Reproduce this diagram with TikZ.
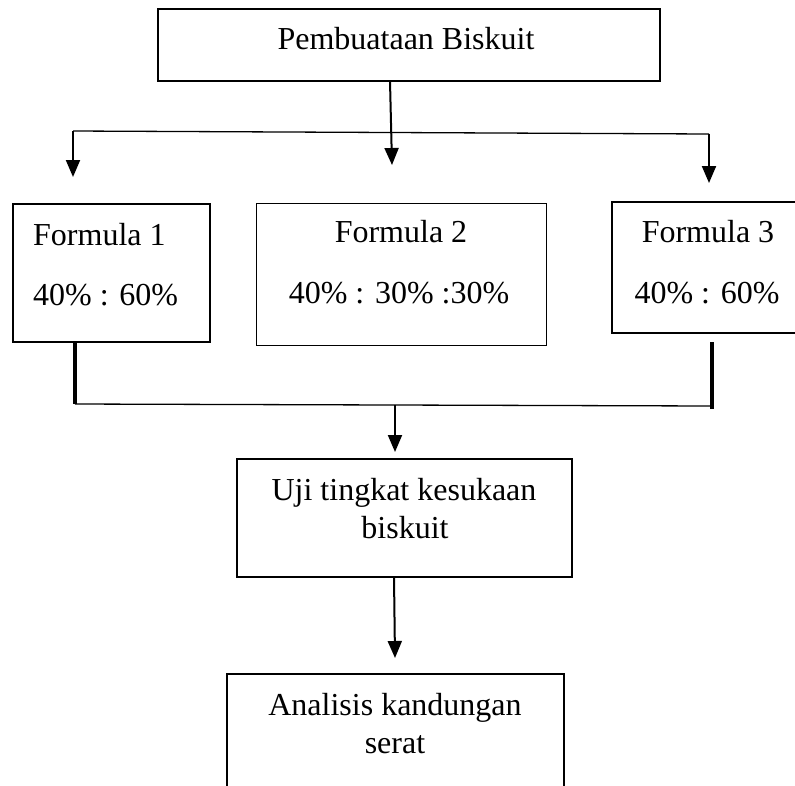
\documentclass[tikz,border=0pt]{standalone}
\usepackage{fontspec}
\setmainfont{Liberation Serif}
\usetikzlibrary{arrows.meta}
\begin{document}
\begin{tikzpicture}[x=1pt,y=-1pt,
  box/.style={draw,rectangle,inner sep=0pt,line width=2.4pt},
  thinbox/.style={draw,rectangle,inner sep=0pt,line width=1pt},
  lbl/.style={font=\fontsize{32}{36}\selectfont,inner sep=0pt,anchor=base},
  arr/.style={line width=2pt,-{Triangle[width=14pt,length=17pt]}},
  bus/.style={line width=1.3pt},
  leg/.style={line width=3.5pt}]
\useasboundingbox (0,0) rectangle (795,785);

% boxes
\node[box,line width=2pt,minimum width=502pt,minimum height=72pt] (top) at (408.5,45) {};
\node[box,minimum width=197pt,minimum height=138pt] (f1) at (111.5,273) {};
\node[thinbox,minimum width=290pt,minimum height=142pt] (f2) at (401,274) {};
\node[box,minimum width=190pt,minimum height=131pt] (f3) at (707,267.5) {};
\node[box,minimum width=335pt,minimum height=118pt] (uji) at (404.5,518) {};
\node[box,minimum width=337pt,minimum height=130pt] (ana) at (395.5,739) {};

% texts
\node[lbl] (tTop) at (406,49) {Pembuataan Biskuit};
\node[lbl,anchor=base west] (tF1a) at (33,245) {Formula 1};
\node[lbl,anchor=base west] (tF1b) at (33,305) {40\% : 60\%};
\node[lbl] (tF2a) at (401,242) {Formula 2};
\node[lbl] (tF2b) at (399,303) {40\% : 30\% :30\%};
\node[lbl] (tF3a) at (708,242) {Formula 3};
\node[lbl] (tF3b) at (707,303) {40\% : 60\%};
\node[lbl] (tU1) at (404,500) {Uji tingkat kesukaan};
\node[lbl] (tU2) at (405,538) {biskuit};
\node[lbl] (tA1) at (395,715) {Analisis kandungan};
\node[lbl] (tA2) at (395,753) {serat};

% connector points
\coordinate (topOut) at (390,81);
\coordinate (midTip) at (392,165);
\coordinate (busL) at (73,131);
\coordinate (busR) at (709,134);
\coordinate (f1Tip) at (73,177);
\coordinate (f3Tip) at (709,183);
\coordinate (legL1) at (75,343);
\coordinate (legL2) at (75,404);
\coordinate (legR1) at (712,342);
\coordinate (legR2) at (712,409);
\coordinate (bus2R) at (712,406);
\coordinate (bus2M) at (395,405);
\coordinate (ujiTip) at (395,452);
\coordinate (ujiOut) at (394,577);
\coordinate (anaTip) at (395,658);

% connectors
\draw[arr] (topOut) -- (midTip);
\draw[bus] (busL) -- (busR);
\draw[arr] (busL) -- (f1Tip);
\draw[arr] (busR) -- (f3Tip);
\draw[leg] (legL1) -- (legL2);
\draw[leg] (legR1) -- (legR2);
\draw[bus] (legL2) -- (bus2R);
\draw[arr] (bus2M) -- (ujiTip);
\draw[arr] (ujiOut) -- (anaTip);
\end{tikzpicture}
\end{document}
